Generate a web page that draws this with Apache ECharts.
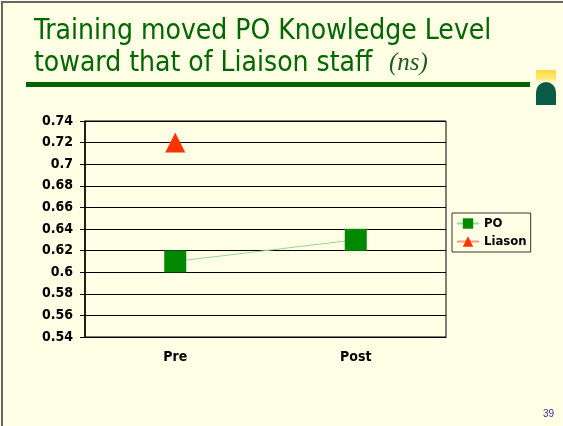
<!DOCTYPE html>
<html>
<head>
<meta charset="utf-8">
<script src="https://cdn.jsdelivr.net/npm/echarts@6/dist/echarts.min.js"></script>
<style>
  html, body { margin: 0; padding: 0; background: #FFFFE5; }
  #chart { width: 563px; height: 426px; }
</style>
</head>
<body>
<div id="chart"></div>
<script>
// data
const categories = ['Pre', 'Post']
const poValues = [0.61, 0.63]
const liaisonValues = [0.72, '-']
const titleLines = ['Training moved PO Knowledge Level', 'toward that of Liaison staff']

const sansFont = '"DejaVu Sans Condensed", "DejaVu Sans", sans-serif'

let chart = echarts.init(document.getElementById('chart'))

let option = {
  backgroundColor: '#FFFFE5',
  animation: false,
  graphic: [
    // slide border
    { type: 'rect', shape: { x: 2, y: 2, width: 600, height: 500 }, style: { fill: 'none', stroke: '#666', lineWidth: 2 } },
    // title
    { type: 'text', left: 34, top: 18, style: { text: titleLines[0], font: '28px ' + sansFont, fill: '#006600' } },
    { type: 'text', left: 34, top: 50, style: { text: titleLines[1], font: '28px ' + sansFont, fill: '#006600' } },
    { type: 'text', left: 389, top: 51, style: { text: '(ns)', font: 'italic 25px "Liberation Serif", serif', fill: '#1f5a1f' } },
    // green rule
    { type: 'rect', shape: { x: 26, y: 82, width: 504, height: 5 }, style: { fill: '#006400' } },
    // logo
    { type: 'rect', shape: { x: 536, y: 70, width: 20, height: 35 },
      style: { fill: new echarts.graphic.LinearGradient(0, 0, 0, 1, [
        { offset: 0, color: '#FFD93F' }, { offset: 0.25, color: '#FFE878' }, { offset: 0.36, color: '#FFFFE5' }, { offset: 1, color: '#FFFFE5' }]) } },
    { type: 'circle', shape: { cx: 546, cy: 92, r: 10 }, style: { fill: '#0B5A45' } },
    { type: 'rect', shape: { x: 536, y: 92, width: 20, height: 13 }, style: { fill: '#0B5A45' } },
    // page number
    { type: 'text', left: 543, top: 409, style: { text: '39', font: '10px "Liberation Sans", Arial, sans-serif', fill: '#333399' } }
  ],
  legend: {
    orient: 'vertical',
    left: 452,
    top: 213,
    padding: [4, 4, 4, 4],
    itemGap: 5,
    itemWidth: 22,
    itemHeight: 13,
    itemTextGap: 3,
    borderColor: '#333',
    borderWidth: 1,
    textStyle: { color: '#000', fontWeight: 'bold', fontSize: 13, fontFamily: sansFont },
    data: ['PO', 'Liason']
  },
  grid: {
    left: 85,
    right: 117,
    top: 121,
    bottom: 89,
    show: true,
    borderColor: '#000',
    borderWidth: 1
  },
  xAxis: {
    type: 'category',
    data: categories,
    axisLine: { lineStyle: { color: '#000', width: 1 } },
    axisTick: { length: 4, lineStyle: { color: '#000' } },
    axisLabel: { margin: 13, color: '#000', fontWeight: 'bold', fontSize: 14, fontFamily: sansFont }
  },
  yAxis: {
    type: 'value',
    min: 0.54,
    max: 0.74,
    interval: 0.02,
    axisLine: { show: true, lineStyle: { color: '#000', width: 1.5 } },
    axisTick: { show: true, length: 5, lineStyle: { color: '#000' } },
    splitLine: { lineStyle: { color: '#000', width: 1 } },
    axisLabel: { margin: 12, color: '#000', fontWeight: 'bold', fontSize: 14, fontFamily: sansFont }
  },
  series: [
    {
      name: 'PO',
      type: 'line',
      data: poValues,
      symbol: 'rect',
      symbolSize: 22,
      itemStyle: { color: '#008800' },
      lineStyle: { color: '#99D699', width: 1 }
    },
    {
      name: 'Liason',
      type: 'line',
      data: liaisonValues,
      symbol: 'triangle',
      symbolSize: [20, 20],
      itemStyle: { color: '#FF3300' },
      lineStyle: { color: '#FF9980', width: 1 }
    }
  ]
}

chart.setOption(option)
</script>
</body>
</html>
